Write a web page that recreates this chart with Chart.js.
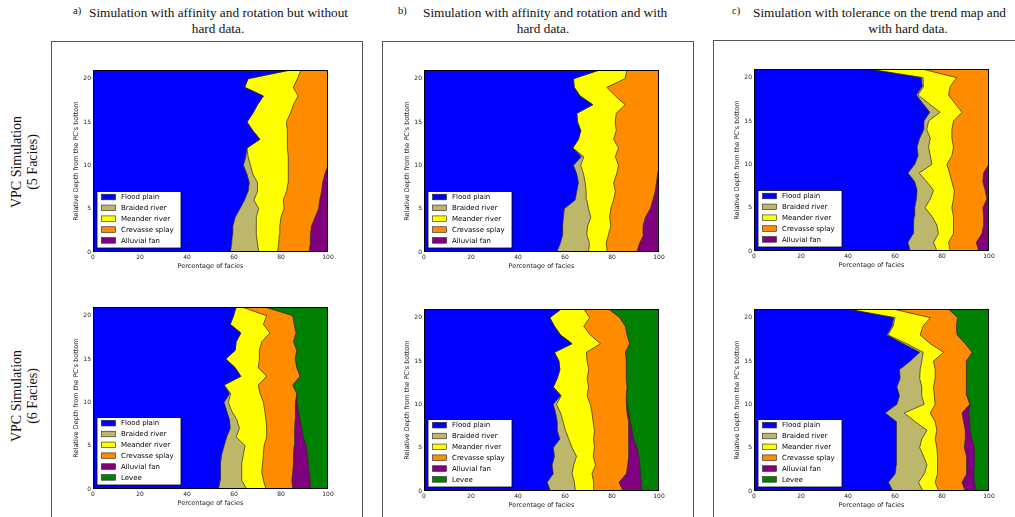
<!DOCTYPE html>
<html>
<head>
<meta charset="utf-8">
<title>VPC simulations</title>
<script src="https://cdn.jsdelivr.net/npm/chart.js@4.4.0/dist/chart.umd.min.js"></script>
<style>
  html, body { margin: 0; padding: 0; background: #fff; }
  body { position: relative; width: 1015px; height: 517px; overflow: hidden;
         font-family: "Liberation Serif", "DejaVu Serif", serif; color: #111; }
  .frame { position: absolute; border: 1.5px solid #555; box-sizing: border-box; }
  .title { position: absolute; white-space: nowrap; font-size: 13.3px; line-height: 1; }
  .prefix { position: absolute; white-space: nowrap; font-size: 10.5px; line-height: 1; }
  .row { position: absolute; width: 130px; text-align: center; font-size: 14px; line-height: 16px;
         transform: translate(-50%, -50%) rotate(-90deg); }
  canvas { position: absolute; }
</style>
</head>
<body>

<div class="frame" style="left:51px; top:41px; width:312px; height:500px;"></div>
<div class="frame" style="left:382px; top:41px; width:312px; height:500px;"></div>
<div class="frame" style="left:713px; top:40px; width:330px; height:500px;"></div>

<div class="prefix" style="left:73px; top:6px;">a)</div>
<div class="title" style="left:89px; top:6px;">Simulation with affinity and rotation but without</div>
<div class="title" style="left:218px; top:22px; transform:translateX(-50%);">hard data.</div>

<div class="prefix" style="left:398px; top:6px;">b)</div>
<div class="title" style="left:423px; top:6px;">Simulation with affinity and rotation and with</div>
<div class="title" style="left:543px; top:22px; transform:translateX(-50%);">hard data.</div>

<div class="prefix" style="left:732px; top:6px;">c)</div>
<div class="title" style="left:753px; top:6px;">Simulation with tolerance on the trend map and</div>
<div class="title" style="left:908px; top:22px; transform:translateX(-50%);">with hard data.</div>

<div class="row" style="left:25px; top:162px;">VPC Simulation<br>(5 Facies)</div>
<div class="row" style="left:25px; top:396px;">VPC Simulation<br>(6 Facies)</div>

<script>
// === vpc.js ===
// Six stacked facies proportion curves (VPC), depth on the vertical axis.

// Depth levels from the PC's bottom
const depths = [0, 1, 2, 3, 4, 5, 6, 7, 8, 9, 10, 11, 12, 13, 14, 15, 16, 17, 18, 19, 20, 21];

const faciesNames = ['Flood plain', 'Braided river', 'Meander river', 'Crevasse splay', 'Alluvial fan', 'Levee'];
const faciesColors = ['#0000ff', '#bdb76b', '#ffff00', '#ff8c00', '#800080', '#008000'];

const xTicks = [0, 20, 40, 60, 80, 100];
const yTicks = [0, 5, 10, 15, 20];

// Cumulative right edge (%) of each facies band, read bottom (depth 0) to top (depth 21)
const stackTotal = [100, 100, 100, 100, 100, 100, 100, 100, 100, 100, 100, 100, 100, 100, 100, 100, 100, 100, 100, 100, 100, 100];

// a) 5 facies
const a5Flood = [58.5, 59, 59.3, 59.5, 60.5, 62.5, 64.5, 66, 66.5, 65.5, 64, 65, 65.5, 71, 68, 65.5, 68, 70, 72.5, 64.5, 66, 84];
const a5Braided = [70.5, 70, 69.5, 69.5, 69.5, 70.5, 68.5, 70, 70, 68, 67, 66, 65.5, 71, 68, 65.5, 68, 70, 72.5, 64.5, 66, 84];
const a5Meander = [78.5, 79, 79.3, 79.5, 80, 81.3, 81, 82.4, 83, 83.3, 83, 83, 82.7, 82.7, 82.7, 82.3, 84, 85.3, 87.3, 85.2, 87, 88.5];
const a5Crevasse = [92, 92.5, 92.5, 93, 94.5, 96, 96.5, 97.3, 97.7, 98.7, 100, 100, 100, 100, 100, 100, 100, 100, 100, 100, 100, 100];

// b) 5 facies
const b5Flood = [56.5, 58, 59, 59, 59.3, 59.7, 64.3, 65, 65.7, 65, 63.6, 67, 63.3, 65.7, 66.7, 65.3, 65, 71.8, 66.4, 63.9, 63.6, 74.7];
const b5Braided = [70, 70.4, 69.3, 69.6, 71, 70, 69.3, 69, 68.6, 67.9, 66.7, 68, 63.3, 65.7, 66.7, 65.3, 65, 71.8, 66.4, 63.9, 63.6, 74.7];
const b5Meander = [78, 77.5, 78.5, 79.5, 79, 79.5, 80.7, 81.4, 80.7, 82, 82.8, 81.4, 82.8, 80.7, 81.8, 81.4, 81.8, 85.6, 81.4, 77.8, 85.6, 86.3];
const b5Crevasse = [90.6, 91.7, 93.5, 93.2, 94.2, 96.3, 97.4, 98.4, 98.9, 99.4, 100, 100, 100, 100, 100, 100, 100, 100, 100, 100, 100, 100];

// c) 5 facies
const c5Flood = [66.5, 65.5, 67.7, 67.9, 68.1, 68.4, 69.1, 69.4, 68.4, 65.5, 68.4, 69.8, 69.4, 70.5, 72.2, 72.3, 74.8, 71.9, 69.1, 71.6, 71.2, 48.5];
const c5Braided = [77.8, 76.4, 78.5, 77.8, 75.7, 72.8, 75, 76.4, 73.5, 70.3, 75.7, 75, 74.3, 75, 73.5, 74.3, 79.2, 74.5, 69.8, 72.2, 72, 48.5];
const c5Meander = [83.5, 82.8, 84.9, 84.9, 84.9, 84.2, 84.9, 85.2, 84.2, 83.2, 82.1, 84.2, 84.9, 84.2, 84.2, 84.9, 88.5, 85.6, 82.8, 83.5, 86.3, 71.4];
const c5Crevasse = [95.6, 94.6, 97, 97.7, 97.7, 97.4, 99.1, 98.4, 97.4, 97.7, 100, 100, 100, 100, 100, 100, 100, 100, 100, 100, 100, 100];

// a) 6 facies
const a6Flood = [53.4, 54.1, 54.4, 54.1, 54.8, 55.8, 56.9, 58.4, 58.1, 56.9, 55.8, 58.1, 55.8, 62.9, 60.5, 56.5, 60.5, 60.9, 62.9, 58.4, 59.8, 60.9];
const a6Braided = [65.4, 63.3, 63.3, 63.3, 64, 64.7, 60.9, 62.3, 61.2, 59, 57.6, 58.6, 55.8, 62.9, 60.5, 56.5, 60.5, 60.9, 62.9, 58.4, 59.8, 60.9];
const a6Meander = [73.6, 72.5, 71.8, 72.2, 72.5, 72.8, 73.9, 73.9, 73.6, 73.1, 72.5, 71.1, 70.3, 73.9, 70.3, 70.8, 70.8, 71.8, 75.3, 72.5, 73.9, 63.3];
const a6Crevasse = [85, 84.6, 85, 85.3, 85.3, 85.6, 85.8, 85.8, 86, 86, 86.3, 86.7, 85, 88.1, 86.7, 86, 86.7, 85.3, 86.4, 85.6, 85, 73];
const a6Alluvial = [92.6, 92.4, 92, 91.6, 91.2, 90.7, 89.5, 88.8, 88.1, 87.4, 86.8, 86.7, 85, 88.1, 86.7, 86, 86.7, 85.3, 86.4, 85.6, 85, 73];

// b) 6 facies
const b6Flood = [53.8, 52.4, 55, 54.5, 55.5, 55, 57.8, 56.7, 56.7, 56, 55, 58.1, 55, 56.7, 57.8, 57.4, 55.5, 63, 58.1, 55.5, 53.5, 58.4];
const b6Braided = [64.4, 64, 63, 63.7, 64.9, 63, 61.6, 60.2, 59.2, 58.1, 56.4, 58.4, 55, 56.7, 57.8, 57.4, 55.5, 63, 58.1, 55.5, 53.5, 58.4];
const b6Meander = [72.2, 72.2, 71.5, 73, 72, 72.5, 72.2, 72.5, 72, 71.5, 70.8, 69.4, 70, 69.4, 70.1, 69.4, 69.1, 75.1, 70.8, 68, 70.5, 68];
const b6Crevasse = [84.7, 83, 86.1, 86.7, 87.1, 87.1, 87.1, 87.1, 87.1, 86.4, 86.1, 86.1, 86.4, 86.1, 86.1, 86.1, 85.7, 87.5, 86.4, 85.7, 83.3, 78.6];
const b6Alluvial = [92.4, 92.4, 92.1, 91.8, 91.4, 90.7, 89.2, 88.5, 87.8, 87.1, 86.4, 86.1, 86.4, 86.1, 86.1, 86.1, 85.7, 87.5, 86.4, 85.7, 83.3, 78.6];

// c) 6 facies
const c6Flood = [59.1, 57.2, 60.1, 60.5, 60.8, 60.5, 60.8, 60.5, 60.5, 55.8, 60.8, 61.9, 60.8, 62.2, 61.9, 66.5, 70.5, 63.5, 56.5, 58.7, 59.4, 39.5];
const c6Braided = [71.9, 70, 72.5, 73.6, 72.2, 70.5, 71.4, 73.6, 68.6, 63.9, 72.4, 71.4, 71.4, 70.5, 70.7, 71.4, 72, 65, 57, 59.2, 60, 39.5];
const c6Meander = [78.6, 77.1, 78.1, 78.1, 78.1, 77.8, 77.1, 77.8, 77.1, 75, 77.1, 76.7, 76.4, 77.1, 77.1, 76.4, 80.7, 75, 70.7, 71.9, 75, 59.1];
const c6Crevasse = [89.9, 88.5, 90.6, 90.6, 90.3, 89.5, 89.9, 89.9, 89.2, 88.5, 91.8, 90.6, 90.3, 90.3, 90.3, 90.6, 92.8, 89.9, 86.4, 86.1, 86.6, 82.8];
const c6Alluvial = [94.6, 93.8, 93.5, 93.8, 93.8, 93.8, 92.8, 92, 91.8, 91.3, 92, 90.6, 90.3, 90.3, 90.3, 90.6, 92.8, 89.9, 86.4, 86.1, 86.6, 82.8];

const VPC = (() => {
    // space around the plot area inside each canvas
    const PAD_L = 30, PAD_T = 6, PAD_R = 8, PAD_B = 26;
    const PLOT_W = 235, PLOT_H = 182;
    const SANS = 'DejaVu Sans';

    const panels = [
        { left: 93, top: 70, edges: [a5Flood, a5Braided, a5Meander, a5Crevasse, stackTotal] },
        { left: 424, top: 70, edges: [b5Flood, b5Braided, b5Meander, b5Crevasse, stackTotal] },
        { left: 754, top: 69, edges: [c5Flood, c5Braided, c5Meander, c5Crevasse, stackTotal] },
        { left: 93, top: 307, edges: [a6Flood, a6Braided, a6Meander, a6Crevasse, a6Alluvial, stackTotal] },
        { left: 424, top: 309, edges: [b6Flood, b6Braided, b6Meander, b6Crevasse, b6Alluvial, stackTotal] },
        { left: 754, top: 309, edges: [c6Flood, c6Braided, c6Meander, c6Crevasse, c6Alluvial, stackTotal] }
    ];

    // Draws the axes frame and the matplotlib-like legend in the lower left corner
    const panelDecor = {
        id: 'panelDecor',
        afterDatasetsDraw(chart) {
            const { ctx, chartArea: a } = chart;
            const sets = chart.data.datasets;
            ctx.save();
            ctx.strokeStyle = '#000';
            ctx.lineWidth = 1;
            ctx.strokeRect(a.left + 0.5, a.top + 0.5, a.right - a.left - 1, a.bottom - a.top - 1);

            const rowH = 10.85;
            const boxW = 84;
            const boxH = 5.6 + rowH * (sets.length - 1) + 7.6;
            const bx = a.left + 4, by = a.bottom - 4 - boxH;
            ctx.fillStyle = '#fff';
            ctx.fillRect(bx, by, boxW, boxH);
            ctx.lineWidth = 0.8;
            ctx.strokeRect(bx, by, boxW, boxH);

            ctx.font = '7px "' + SANS + '"';
            ctx.textBaseline = 'middle';
            sets.forEach((ds, i) => {
                const cy = by + 5.6 + rowH * i;
                ctx.fillStyle = ds.backgroundColor;
                ctx.fillRect(bx + 4.5, cy - 2.8, 14, 5.6);
                ctx.strokeStyle = '#222';
                ctx.lineWidth = 0.6;
                ctx.strokeRect(bx + 4.5, cy - 2.8, 14, 5.6);
                ctx.fillStyle = '#000';
                ctx.fillText(ds.label, bx + 24, cy + 0.3);
            });
            ctx.restore();
        }
    };

    const makePanel = (p) => {
        const cv = document.createElement('canvas');
        cv.width = PLOT_W + PAD_L + PAD_R;
        cv.height = PLOT_H + PAD_T + PAD_B;
        cv.style.left = (p.left - PAD_L) + 'px';
        cv.style.top = (p.top - PAD_T) + 'px';
        document.body.appendChild(cv);

        // one line per band edge, filled down to 0 %; the first band is drawn on top
        const datasets = p.edges.map((edge, i) => ({
            label: faciesNames[i],
            data: edge.map((v, k) => ({ x: v, y: depths[k] })),
            backgroundColor: faciesColors[i],
            borderColor: '#2a2a2a',
            borderWidth: 0.7,
            pointRadius: 0,
            tension: 0,
            fill: 'origin'
        }));

        const tickFont = { family: SANS, size: 6 };
        const titleFont = { family: SANS, size: 6.5 };

        new Chart(cv, {
            type: 'line',
            data: { datasets },
            options: {
                responsive: false,
                animation: false,
                devicePixelRatio: 1,
                indexAxis: 'y',
                layout: { padding: { left: 0, top: PAD_T, right: PAD_R, bottom: 0 } },
                plugins: { legend: { display: false }, tooltip: { enabled: false } },
                scales: {
                    x: {
                        type: 'linear', position: 'bottom', min: 0, max: 100,
                        grid: { display: false, drawTicks: false },
                        border: { display: false },
                        ticks: { font: tickFont, color: '#222', padding: 2, maxRotation: 0, includeBounds: false },
                        afterBuildTicks: s => { s.ticks = xTicks.map(v => ({ value: v })); },
                        title: { display: true, text: 'Percentage of facies', font: titleFont, color: '#222',
                                 padding: { top: 0, bottom: 7.4 } },
                        afterFit: s => { s.height = PAD_B; }
                    },
                    y: {
                        type: 'linear', position: 'left', min: 0, max: 21,
                        grid: { display: false, drawTicks: false },
                        border: { display: false },
                        ticks: { font: tickFont, color: '#222', padding: 2, includeBounds: false },
                        afterBuildTicks: s => { s.ticks = yTicks.map(v => ({ value: v })); },
                        title: { display: true, text: "Relative Depth from the PC's bottom", font: titleFont, color: '#222',
                                 padding: { top: 9.8, bottom: 0 } },
                        afterFit: s => { s.width = PAD_L; }
                    }
                }
            },
            plugins: [panelDecor]
        });
    };

    const init = () => panels.forEach(makePanel);

    return { init };
})();

VPC.init();
</script>
</body>
</html>
